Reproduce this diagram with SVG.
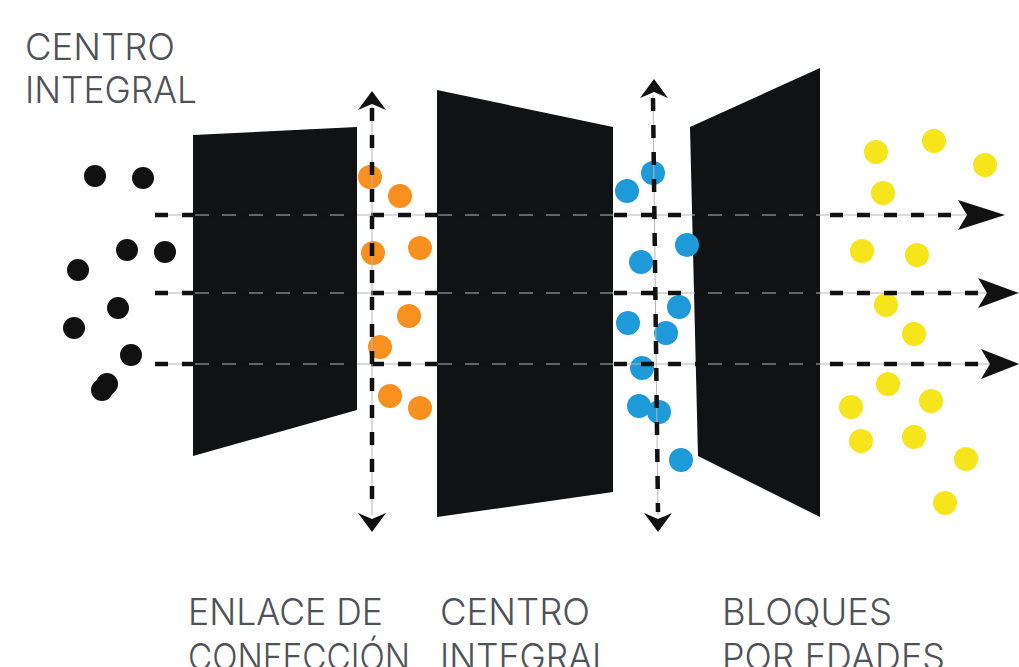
<svg xmlns="http://www.w3.org/2000/svg" width="1019" height="667" viewBox="0 0 1019 667">
<defs>
<style>
.lbl{font-family:"Inter","Liberation Sans",sans-serif;font-weight:300;font-size:37px;fill:#4f5257;}
.panel{fill:#111214;}
.guide{stroke:#b5b5b5;stroke-width:1;fill:none;}
.dash{stroke:#111;stroke-width:4.5;stroke-dasharray:13 14;fill:none;}
.k{fill:#111;}
.o{fill:#f7901e;}
.b{fill:#1e9ad9;}
.y{fill:#f5e51a;}
.head{fill:#111;}
</style>
</defs>
<rect width="1019" height="667" fill="#ffffff"/>
<g id="label-top">
<text class="lbl" x="25" y="60" textLength="150" lengthAdjust="spacingAndGlyphs">CENTRO</text>
<text class="lbl" x="25" y="103" textLength="172" lengthAdjust="spacingAndGlyphs">INTEGRAL</text>
</g>
<g id="panel-enlace"><polygon class="panel" points="193,135 357,127 357,410 193,456"/></g>
<g id="panel-centro"><polygon class="panel" points="437,90 613,127 613,492 437,517"/></g>
<g id="panel-bloques"><polygon class="panel" points="690,127 820,68 820,517 698,456"/></g>
<g id="dots-black">
<circle class="k" cx="95" cy="176" r="11"/>
<circle class="k" cx="143" cy="178" r="11"/>
<circle class="k" cx="127" cy="250" r="11"/>
<circle class="k" cx="165" cy="252" r="11"/>
<circle class="k" cx="78" cy="270" r="11"/>
<circle class="k" cx="118" cy="308" r="11"/>
<circle class="k" cx="74" cy="328" r="11"/>
<circle class="k" cx="131" cy="355" r="11"/>
<circle class="k" cx="102" cy="390" r="11"/>
<circle class="k" cx="107" cy="384" r="11"/>
</g>
<g id="dots-orange">
<circle class="o" cx="370" cy="177" r="12"/>
<circle class="o" cx="400" cy="196" r="12"/>
<circle class="o" cx="373" cy="253" r="12"/>
<circle class="o" cx="420" cy="248" r="12"/>
<circle class="o" cx="409" cy="316" r="12"/>
<circle class="o" cx="380" cy="347" r="12"/>
<circle class="o" cx="390" cy="396" r="12"/>
<circle class="o" cx="420" cy="408" r="12"/>
</g>
<g id="dots-blue">
<circle class="b" cx="653" cy="173" r="12"/>
<circle class="b" cx="627" cy="191" r="12"/>
<circle class="b" cx="687" cy="245" r="12"/>
<circle class="b" cx="641" cy="262" r="12"/>
<circle class="b" cx="679" cy="307" r="12"/>
<circle class="b" cx="628" cy="323" r="12"/>
<circle class="b" cx="666" cy="333" r="12"/>
<circle class="b" cx="642" cy="368" r="12"/>
<circle class="b" cx="639" cy="406" r="12"/>
<circle class="b" cx="659" cy="412" r="12"/>
<circle class="b" cx="681" cy="460" r="12"/>
</g>
<g id="dots-yellow">
<circle class="y" cx="876" cy="152" r="12"/>
<circle class="y" cx="934" cy="141" r="12"/>
<circle class="y" cx="985" cy="165" r="12"/>
<circle class="y" cx="883" cy="193" r="12"/>
<circle class="y" cx="862" cy="251" r="12"/>
<circle class="y" cx="917" cy="255" r="12"/>
<circle class="y" cx="886" cy="305" r="12"/>
<circle class="y" cx="914" cy="334" r="12"/>
<circle class="y" cx="888" cy="384" r="12"/>
<circle class="y" cx="931" cy="401" r="12"/>
<circle class="y" cx="851" cy="407" r="12"/>
<circle class="y" cx="861" cy="441" r="12"/>
<circle class="y" cx="914" cy="437" r="12"/>
<circle class="y" cx="966" cy="459" r="12"/>
<circle class="y" cx="945" cy="503" r="12"/>
</g>
<g id="connectors">
<line class="guide" x1="155" y1="215" x2="970" y2="215"/>
<line class="guide" x1="155" y1="293" x2="990" y2="293"/>
<line class="guide" x1="155" y1="364" x2="990" y2="364"/>
<line class="dash" x1="155" y1="215" x2="962" y2="215"/>
<line class="dash" x1="155" y1="293" x2="982" y2="293"/>
<line class="dash" x1="155" y1="364" x2="982" y2="364"/>
<path class="head" d="M1005,215 L958,200 L967,215 L958,230 Z"/>
<path class="head" d="M1019,293 L978,278 L987,293 L978,308 Z"/>
<path class="head" d="M1019,364 L981,349 L990,364 L981,379 Z"/>
<line class="guide" x1="372" y1="105" x2="372" y2="515"/>
<line class="dash" x1="372" y1="108" x2="372" y2="512"/>
<path class="head" d="M372,91 L358,110 L372,104 L386,110 Z"/>
<path class="head" d="M372,532 L358,513 L372,519 L386,513 Z"/>
<line class="guide" x1="653" y1="95" x2="658" y2="515"/>
<line class="dash" x1="653" y1="98" x2="658" y2="512"/>
<path class="head" d="M654,79 L640,98 L654,92 L668,98 Z"/>
<path class="head" d="M658,532 L644,513 L658,519 L672,513 Z"/>
</g>
<g id="label-enlace">
<text class="lbl" x="188" y="625" textLength="195" lengthAdjust="spacingAndGlyphs">ENLACE DE</text>
<text class="lbl" x="188" y="670" textLength="222" lengthAdjust="spacingAndGlyphs">CONFECCIÓN</text>
</g>
<g id="label-centro">
<text class="lbl" x="440" y="625" textLength="150" lengthAdjust="spacingAndGlyphs">CENTRO</text>
<text class="lbl" x="440" y="670" textLength="172" lengthAdjust="spacingAndGlyphs">INTEGRAL</text>
</g>
<g id="label-bloques">
<text class="lbl" x="722" y="625" textLength="170" lengthAdjust="spacingAndGlyphs">BLOQUES</text>
<text class="lbl" x="722" y="670" textLength="223" lengthAdjust="spacingAndGlyphs">POR EDADES</text>
</g>
</svg>
